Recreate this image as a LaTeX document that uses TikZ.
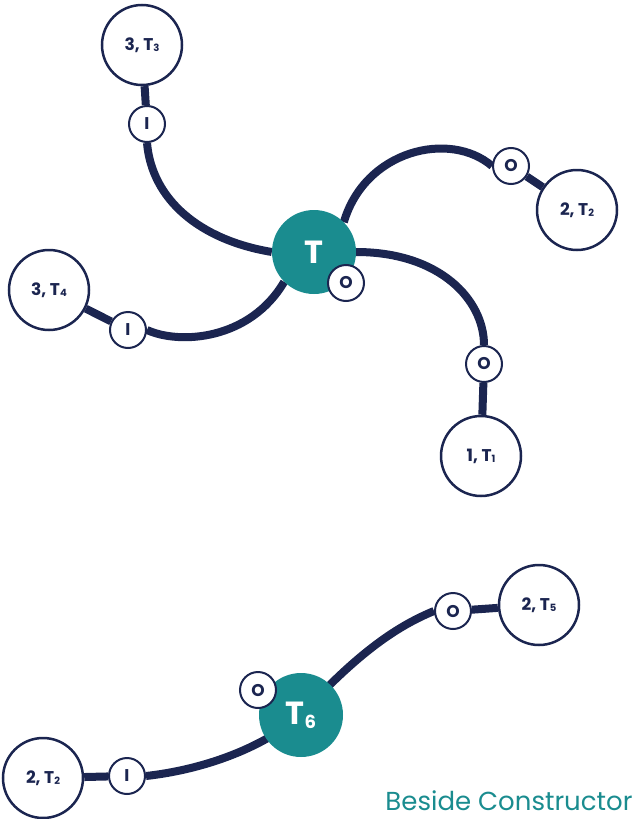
\documentclass[tikz,border=0pt]{standalone}
\usepackage{fontspec}
\setmainfont{Poppins}
\definecolor{navy}{HTML}{1B2550}
\definecolor{teal2}{HTML}{1A8C8F}
\tikzset{
  big/.style={circle,draw=navy,line width=2.5pt,fill=white,minimum size=80pt,inner sep=0pt,font=\bfseries\fontsize{17}{17}\selectfont,text=navy},
  port/.style={circle,draw=navy,line width=2pt,fill=white,minimum size=36pt,inner sep=0pt,font=\bfseries\fontsize{17}{17}\selectfont,text=navy},
  ctr/.style={circle,fill=teal2,minimum size=84pt,inner sep=0pt,font=\bfseries\fontsize{32}{32}\selectfont,text=white},
  wire/.style={draw=navy,line width=8pt}
}
\newcommand{\Tsub}[1]{T\raisebox{-1pt}{\fontsize{10}{10}\selectfont #1}}
\begin{document}
\begin{tikzpicture}[x=1pt,y=-1pt]
\useasboundingbox (0,0) rectangle (640,819);
% top group
\node[ctr,fill=none] (T) at (314,252) {};
\node[big] (t3) at (142,45) {3, \Tsub{3}};
\node[port] (i3) at (147,124) {I};
\node[big] (t2) at (577,210) {2, \Tsub{2}};
\node[port] (o2) at (511,166) {O};
\node[big] (t4) at (49,290) {3, \Tsub{4}};
\node[port] (i4) at (128,330) {I};
\node[big] (t1) at (481,456) {1, \Tsub{1}};
\node[port] (o1) at (484,364) {O};
\draw[wire] (t3) -- (i3);
\draw[wire] (o2) -- (t2);
\draw[wire] (i4) -- (t4);
\draw[wire] (o1) -- (t1);
\draw[wire] (i3.south) .. controls (152,200) and (200,240) .. (T.west);
\draw[wire] (T.north east) .. controls (365,150) and (450,130) .. (o2.west);
\draw[wire] (T.east) .. controls (440,252) and (484,300) .. (o1.north);
\draw[wire] (T.south west) .. controls (250,340) and (180,345) .. (i4.east);
\node[ctr] (T0) at (314,252) {T};
\node[port] (oT) at (346,283) {O};
% bottom group
\node[ctr,fill=none] (T6) at (301,715) {};
\node[big] (t5) at (539,605) {2, \Tsub{5}};
\node[port] (o5) at (453,611) {O};
\node[big] (t2b) at (43,778) {2, \Tsub{2}};
\node[port] (i2b) at (127,776) {I};
\draw[wire] (o5) -- (t5);
\draw[wire] (i2b) -- (t2b);
\draw[wire] (T6.center) .. controls (360,650) and (400,625) .. (o5.west);
\draw[wire] (i2b.east) .. controls (200,770) and (260,750) .. (T6.center);
\node[ctr] (T6b) at (301,715) {T\raisebox{-4pt}{\fontsize{18}{18}\selectfont 6}};
\node[port] (o6) at (258,690) {O};
\node[anchor=base east,text=teal2,font=\fontsize{26}{26}\selectfont] (lbl) at (636,810) {Beside Constructor};
\end{tikzpicture}
\end{document}
